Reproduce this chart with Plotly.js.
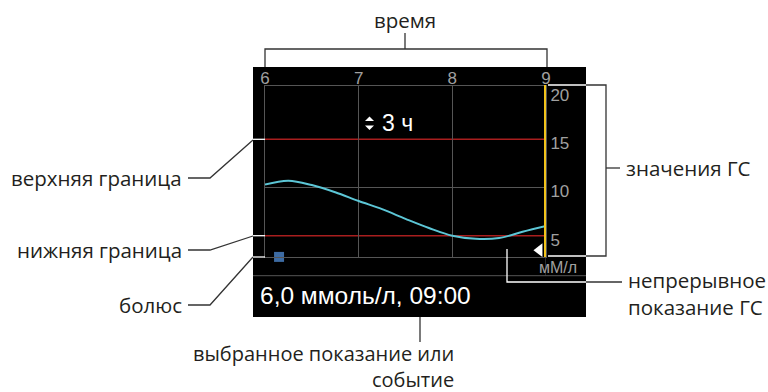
<!DOCTYPE html>
<html>
<head>
<meta charset="utf-8">
<script src="https://cdn.plot.ly/plotly-3.0.1.min.js"></script>
<style>html,body{margin:0;padding:0;background:#fff;}#chart{width:768px;height:392px;}</style>
</head>
<body>
<div id="chart"></div>
<script>
// ---- data ----
const hours = [6.0, 6.25, 6.5, 6.75, 7.0, 7.25, 7.5, 7.75, 8.0, 8.25, 8.5, 8.75, 9.0];
const glucose = [10.3, 10.7, 10.25, 9.5, 8.6, 7.75, 6.75, 5.8, 5.0, 4.68, 4.76, 5.4, 6.0];
const bolusTime = [6.15];
const bolusLevel = [2.8];
const currentTime = [8.93];
const currentMarkerLevel = [3.5];
const upperLimit = 15;
const lowerLimit = 5;
const gridLevel = 10;
const xTickVals = [6, 7, 8, 9];
const xTickText = ['6', '7', '8', '9'];
const yTickVals = [5, 10, 15, 20];
const yTickText = ['5', '10', '15', '20'];
const rangeLabel = '3 ч';
const readoutLabel = '6,0 ммоль/л, 09:00';
const unitLabel = 'мМ/л';
const calloutLabels = {
  time: 'время',
  upper: 'верхняя граница',
  lower: 'нижняя граница',
  bolus: 'болюс',
  values: 'значения ГС',
  cgm: 'непрерывное<br>показание ГС',
  sel: 'выбранное показание или<br>событие'
};

// ---- geometry helpers (pixel -> paper) ----
const L = 265, R = 546, T = 86, B = 257;
const px = x => (x - L) / (R - L);
const py = y => (B - y) / (B - T);
function poly(points, color, width) {
  return {
    type: 'path', xref: 'paper', yref: 'paper', layer: 'above',
    path: 'M ' + points.map(p => px(p[0]).toFixed(5) + ',' + py(p[1]).toFixed(5)).join(' L '),
    line: {color: color, width: width || 1.3}
  };
}
function tri(points) {
  return {
    type: 'path', xref: 'paper', yref: 'paper', layer: 'above',
    path: 'M ' + points.map(p => px(p[0]).toFixed(5) + ',' + py(p[1]).toFixed(5)).join(' L ') + ' Z',
    fillcolor: '#ffffff', line: {color: '#ffffff', width: 0}
  };
}
const DARK = '#333333', WHITE = '#ffffff', GRID = '#555555';
const outFont = {family: 'Open Sans', size: 20.5, color: '#231f20'};
function ann(text, x, y, xanchor, font, align) {
  return {text: text, xref: 'paper', yref: 'paper', x: px(x), y: py(y),
          xanchor: xanchor, yanchor: 'middle', showarrow: false, font: font || outFont,
          align: align || xanchor};
}

const traces = [
  {x: hours, y: glucose, type: 'scatter', mode: 'lines',
   line: {color: '#5cc6d6', width: 2, shape: 'spline', smoothing: 1}, hoverinfo: 'skip'},
  {x: bolusTime, y: bolusLevel, type: 'scatter', mode: 'markers', cliponaxis: false,
   marker: {symbol: 'square', size: 10, color: '#3d6ba3'}, hoverinfo: 'skip'},
  {x: currentTime, y: currentMarkerLevel, type: 'scatter', mode: 'markers', cliponaxis: false,
   marker: {symbol: 'triangle-left', size: 12, color: '#ffffff'}, hoverinfo: 'skip'}
];

const shapes = [
  {type: 'rect', xref: 'paper', yref: 'paper', layer: 'below',
   x0: px(253), x1: px(586), y0: py(317), y1: py(67), fillcolor: '#000000', line: {width: 0}},
  {type: 'line', xref: 'paper', yref: 'paper', layer: 'below',
   x0: px(253), x1: px(586), y0: py(275.7), y1: py(275.7), line: {color: GRID, width: 1}},
  {type: 'line', xref: 'x', yref: 'paper', layer: 'below',
   x0: 9, x1: 9, y0: 0, y1: py(275.7), line: {color: GRID, width: 1}},
  {type: 'line', xref: 'x', yref: 'y', layer: 'below',
   x0: 6, x1: 9, y0: gridLevel, y1: gridLevel, line: {color: GRID, width: 1}},
  {type: 'line', xref: 'x', yref: 'y', layer: 'below',
   x0: 6, x1: 9, y0: upperLimit, y1: upperLimit, line: {color: '#a81e1e', width: 1.5}},
  {type: 'line', xref: 'x', yref: 'y', layer: 'below',
   x0: 6, x1: 9, y0: lowerLimit, y1: lowerLimit, line: {color: '#a81e1e', width: 1.5}},
  {type: 'line', xref: 'x', yref: 'paper', layer: 'above',
   x0: 9, x1: 9, y0: 0, y1: py(85), line: {color: '#f2c31a', width: 4}},
  tri([[365, 121], [374, 121], [369.5, 116.5]]),
  tri([[365, 125.5], [374, 125.5], [369.5, 130]]),
  poly([[265, 67], [265, 49], [547, 49], [547, 67]], DARK),
  poly([[405, 49], [405, 33]], DARK),
  poly([[188, 178], [210, 178], [253, 140]], DARK),
  poly([[253, 139.3], [265, 139.3]], WHITE),
  poly([[188, 250], [210, 250], [253, 236]], DARK),
  poly([[253, 235.7], [265, 235.7]], WHITE),
  poly([[188, 305], [210, 305], [253, 257]], DARK),
  poly([[253, 257], [265, 257]], WHITE),
  poly([[548, 85], [586, 85]], WHITE),
  poly([[586, 85], [606, 85], [606, 256], [586, 256]], DARK),
  poly([[586, 256], [548, 256]], WHITE),
  poly([[606, 168], [620, 168]], DARK),
  poly([[507, 249], [507, 282], [586, 282]], WHITE),
  poly([[586, 282], [622, 282]], DARK),
  poly([[420, 317], [420, 342]], DARK)
];

const innerFont = 'Liberation Sans';
const annotations = [
  ann(calloutLabels.time, 405, 20, 'center'),
  ann(calloutLabels.upper, 184, 178, 'right'),
  ann(calloutLabels.lower, 184, 250, 'right'),
  ann(calloutLabels.bolus, 184, 305, 'right'),
  ann(calloutLabels.values, 624, 168, 'left'),
  ann(calloutLabels.cgm, 626, 293, 'left'),
  ann(calloutLabels.sel, 456, 366.5, 'right', {family: 'Open Sans', size: 20, color: '#231f20'}),
  ann(rangeLabel, 380, 123, 'left', {family: innerFont, size: 23, color: '#ffffff'}),
  ann(readoutLabel, 258, 295, 'left', {family: innerFont, size: 24.5, color: '#ffffff'}),
  ann(unitLabel, 537, 267, 'left', {family: innerFont, size: 16, color: '#a0a0a0'})
];

const layout = {
  width: 768, height: 392,
  margin: {l: 265, r: 222, t: 86, b: 135, pad: 0},
  paper_bgcolor: '#ffffff', plot_bgcolor: '#000000',
  showlegend: false,
  xaxis: {range: [6, 9], side: 'top', tickvals: xTickVals, ticktext: xTickText,
          showgrid: true, gridcolor: GRID, gridwidth: 1, zeroline: false,
          showline: true, linecolor: GRID, linewidth: 1, mirror: true, ticks: '',
          ticklabelstandoff: -6,
          tickfont: {family: innerFont, size: 17, color: '#a0a0a0'}, fixedrange: true},
  yaxis: {range: [2.79, 20.53], side: 'right', tickvals: yTickVals, ticktext: yTickText,
          showgrid: false, zeroline: false,
          showline: true, linecolor: GRID, linewidth: 1, mirror: true, ticks: '',
          ticklabelshift: 4,
          tickfont: {family: innerFont, size: 17, color: '#a0a0a0'}, fixedrange: true},
  shapes: shapes,
  annotations: annotations
};

Plotly.newPlot('chart', traces, layout, {staticPlot: true, displayModeBar: false});
</script>
</body>
</html>
